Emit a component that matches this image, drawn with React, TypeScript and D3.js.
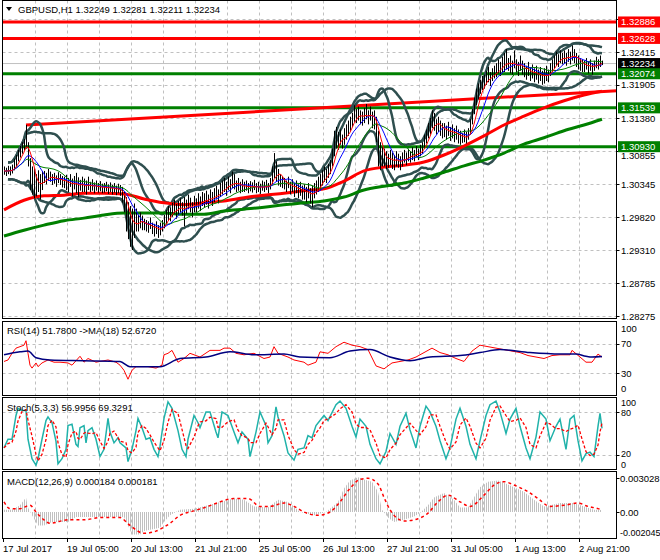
import { useEffect, useRef } from 'react';
import * as d3 from 'd3';

// GBPUSD H1, 300 hourly bars from 17 Jul 21:00 (prices in pips above 1.2800)
const BASE = 1.28;
const highPips = [
  262, 260, 263, 262, 265, 274, 280, 288, 294, 300,
  305, 327, 300, 275, 262, 258, 250, 256, 250, 255,
  255, 252, 258, 254, 250, 252, 248, 253, 250, 247,
  246, 249, 244, 250, 243, 247, 252, 245, 241, 246,
  243, 240, 246, 238, 242, 237, 240, 236, 239, 235,
  236, 238, 234, 237, 233, 236, 232, 235, 233, 230,
  222, 214, 206, 200, 196, 204, 196, 186, 190, 185,
  180, 178, 176, 182, 174, 172, 176, 170, 174, 178,
  186, 194, 200, 198, 205, 210, 203, 208, 212, 206,
  214, 210, 218, 213, 206, 216, 212, 220, 215, 222,
  220, 224, 218, 226, 222, 228, 232, 226, 236, 240,
  244, 238, 246, 242, 254, 250, 240, 244, 238, 242,
  238, 240, 236, 239, 237, 241, 236, 238, 235, 240,
  238, 241, 236, 244, 262, 283, 270, 258, 250, 246,
  244, 240, 246, 238, 242, 236, 240, 234, 238, 232,
  234, 230, 236, 228, 232, 236, 240, 246, 250, 256,
  262, 258, 266, 272, 290, 318, 324, 316, 320, 312,
  322, 328, 334, 340, 346, 358, 352, 356, 350, 348,
  354, 360, 350, 356, 348, 350, 340, 318, 300, 292,
  290, 286, 282, 288, 284, 280, 286, 282, 278, 284,
  288, 284, 290, 286, 292, 288, 294, 290, 296, 300,
  312, 320, 330, 338, 350, 346, 336, 340, 334, 330,
  330, 326, 332, 324, 328, 322, 326, 320, 318, 314,
  320, 316, 322, 336, 352, 370, 384, 392, 398, 404,
  406, 412, 418, 410, 416, 420, 424, 430, 426, 434,
  440, 446, 432, 436, 428, 444, 430, 426, 436, 428,
  424, 420, 426, 418, 422, 416, 420, 414, 418, 412,
  416, 420, 414, 424, 430, 436, 442, 438, 444, 440,
  444, 440, 446, 442, 452, 446, 440, 436, 432, 430,
  428, 432, 426, 430, 424, 428, 434, 430, 436, 428,
];
const lowPips = [
  249, 247, 250, 248, 251, 256, 262, 270, 276, 282,
  287, 290, 262, 225, 218, 212, 215, 222, 210, 225,
  236, 234, 240, 238, 233, 235, 230, 236, 233, 229,
  228, 225, 222, 230, 215, 226, 220, 214, 224, 222,
  222, 218, 225, 222, 224, 220, 224, 221, 223, 220,
  221, 223, 219, 222, 218, 221, 217, 220, 216, 205,
  190, 160, 148, 136, 131, 150, 160, 160, 165, 162,
  162, 160, 158, 164, 156, 152, 156, 150, 154, 160,
  165, 172, 178, 176, 183, 188, 180, 186, 190, 185,
  168, 188, 195, 190, 182, 190, 190, 196, 192, 200,
  198, 202, 196, 205, 200, 206, 210, 204, 214, 218,
  222, 216, 225, 220, 228, 226, 222, 224, 220, 222,
  222, 224, 220, 223, 221, 225, 220, 222, 219, 224,
  222, 225, 220, 226, 234, 244, 238, 232, 230, 228,
  226, 222, 228, 218, 222, 214, 220, 212, 216, 210,
  210, 206, 212, 204, 198, 212, 218, 222, 226, 232,
  238, 236, 244, 250, 262, 278, 290, 288, 296, 290,
  296, 304, 310, 318, 324, 332, 330, 334, 328, 326,
  330, 336, 328, 334, 322, 320, 300, 262, 256, 262,
  262, 258, 260, 264, 258, 256, 262, 260, 256, 262,
  268, 264, 270, 268, 272, 270, 276, 272, 278, 282,
  290, 298, 306, 312, 322, 318, 312, 316, 310, 306,
  308, 304, 310, 302, 306, 300, 304, 298, 296, 299,
  300, 298, 304, 312, 328, 344, 358, 368, 376, 382,
  384, 390, 394, 388, 396, 400, 402, 408, 404, 410,
  410, 414, 412, 408, 406, 416, 408, 404, 412, 406,
  402, 398, 404, 396, 400, 394, 398, 392, 396, 390,
  392, 396, 394, 404, 410, 416, 420, 418, 424, 422,
  424, 420, 426, 422, 428, 424, 418, 414, 412, 410,
  410, 414, 408, 412, 406, 412, 416, 414, 418, 421,
];

// slow moving averages, one reading every 10 bars
const slowRedMa = [194, 209, 216, 217, 220, 220, 219, 211, 205, 202, 205, 208, 213, 217, 220, 224, 227, 239, 255, 261, 264, 269, 280, 294, 310, 327, 341, 354, 365, 374, 380];
const slowGreenMa = [153, 162, 170, 177, 181, 186, 189, 189, 189, 187, 187, 192, 195, 198, 202, 205, 208, 214, 225, 231, 236, 244, 253, 263, 272, 283, 297, 307, 318, 327, 336];

const priceTicks = [1.32415, 1.31905, 1.3138, 1.30855, 1.30345, 1.2982, 1.2931, 1.28785, 1.28275];
const gridPrices = [1.3294, ...priceTicks];
const redLevels = [1.32886, 1.32628];
const greenLevels = [1.32074, 1.31539, 1.3093];
const lastPrice = 1.32234;
const trendPoints: [number, number][] = [[11, 1.3127], [307, 1.3181]];

const timeLabels = ['17 Jul 2017', '19 Jul 05:00', '20 Jul 13:00', '21 Jul 21:00', '25 Jul 05:00', '26 Jul 13:00', '27 Jul 21:00', '31 Jul 05:00', '1 Aug 13:00', '2 Aug 21:00'];
const timeLabelBars = [0, 32, 64, 96, 128, 160, 192, 224, 256, 288];

// [bar, value]
const rsiLine: [number, number][] = [
  [0, 46], [2, 48], [4, 57], [6, 64], [8, 66], [10, 68], [11, 74], [12, 57], [13, 41], [14, 37], [16, 44], [17, 39], [19, 44],
  [22, 48], [25, 45], [28, 45], [32, 44], [34, 41], [36, 47], [38, 53], [40, 45], [42, 50], [46, 45], [52, 48], [56, 45],
  [58, 41], [60, 34], [62, 22], [64, 34], [66, 39], [72, 39], [76, 37], [79, 41], [80, 55], [82, 57], [84, 61], [87, 45],
  [90, 50], [93, 57], [98, 52], [103, 61], [108, 61], [110, 64], [113, 64], [116, 57], [120, 55], [125, 57], [130, 50],
  [133, 52], [135, 66], [137, 57], [142, 52], [145, 48], [150, 45], [152, 41], [156, 45], [158, 59], [162, 57], [166, 66],
  [170, 72], [174, 68], [178, 66], [182, 62], [186, 40], [190, 36], [194, 44], [198, 46], [202, 48], [206, 52], [210, 58],
  [214, 64], [218, 58], [222, 55], [226, 50], [230, 46], [234, 60], [238, 68], [242, 66], [246, 64], [250, 62], [254, 60],
  [258, 58], [262, 54], [266, 52], [270, 50], [274, 54], [278, 55], [283, 55], [284, 61], [288, 52], [291, 45], [294, 45],
  [297, 56], [299, 51.78],
];
const rsiMaLine: [number, number][] = [
  [0, 55], [8, 59], [12, 60], [16, 51], [23, 48], [40, 47], [58, 46], [63, 39], [78, 39], [88, 50], [101, 52], [113, 59],
  [125, 55], [140, 56], [148, 52], [163, 51], [173, 60], [183, 62], [193, 52], [203, 47], [213, 52], [228, 54], [238, 58],
  [248, 62], [263, 58], [278, 56], [286, 56], [291, 53], [294, 52], [299, 52.67],
];
const stochLine: [number, number][] = [
  [0, 30], [2, 42], [4, 42], [6, 75], [7, 85], [9, 82], [11, 82], [12, 42], [14, 15], [16, 6], [17, 15], [19, 42], [21, 68],
  [22, 73], [24, 65], [26, 39], [27, 8], [29, 15], [31, 28], [32, 61], [34, 63], [36, 35], [37, 32], [38, 58], [40, 61],
  [41, 37], [42, 54], [44, 58], [46, 42], [48, 18], [50, 28], [52, 71], [53, 52], [55, 37], [57, 44], [58, 37], [61, 30],
  [62, 11], [64, 28], [66, 54], [67, 71], [69, 58], [71, 42], [73, 44], [75, 28], [77, 18], [78, 32], [80, 71], [82, 94],
  [84, 85], [87, 54], [89, 28], [91, 18], [92, 42], [95, 75], [97, 65], [98, 58], [101, 80], [103, 80], [106, 52], [107, 44],
  [109, 80], [112, 75], [115, 52], [117, 37], [119, 52], [122, 42], [123, 18], [126, 52], [128, 80], [131, 61], [132, 37],
  [134, 47], [136, 87], [137, 73], [140, 47], [142, 23], [145, 13], [147, 28], [150, 30], [152, 47], [154, 44], [156, 61],
  [158, 68], [160, 75], [162, 68], [166, 90], [168, 95], [171, 85], [174, 60], [176, 45], [178, 70], [181, 60], [183, 35],
  [186, 15], [188, 8], [191, 25], [193, 50], [196, 35], [198, 60], [201, 78], [203, 55], [206, 30], [208, 60], [211, 88],
  [213, 80], [216, 60], [218, 40], [221, 15], [223, 30], [226, 70], [228, 85], [231, 60], [233, 35], [236, 15], [238, 40],
  [241, 75], [243, 90], [246, 95], [248, 80], [251, 50], [253, 70], [256, 85], [258, 60], [261, 30], [263, 15], [266, 45],
  [268, 80], [271, 70], [273, 40], [276, 60], [278, 70], [281, 28], [283, 70], [285, 75], [287, 40], [289, 12], [291, 22],
  [293, 24], [295, 18], [297, 60], [298, 78], [299, 57],
];
const macdLine: [number, number][] = [
  [0, 0.0002], [4, 0.0002], [8, 0.0006], [11, 0.0013], [12, 0.0004], [14, -0.0003], [17, -0.0012], [20, -0.0012],
  [24, -0.0009], [32, -0.0009], [36, -0.00045], [60, -0.00045], [62, -0.0012], [64, -0.002], [68, -0.002], [70, -0.0017],
  [78, -0.0014], [80, -0.0009], [83, -0.0003], [88, 0.0002], [95, 0.0003], [102, 0.0006], [108, 0.0009], [115, 0.0012],
  [120, 0.0011], [125, 0.0005], [132, 0.0004], [137, 0.0011], [142, 0.0009], [145, 0.0005], [148, 0], [155, -0.0003],
  [161, 0], [163, 0.0003], [167, 0.0009], [170, 0.0021], [173, 0.0028], [177, 0.0031], [180, 0.0029], [184, 0.0027],
  [187, 0.0018], [189, 0.0002], [192, -0.0005], [195, -0.0009], [200, -0.0007], [205, -0.0004], [208, -0.0001],
  [212, 0.0006], [215, 0.0013], [220, 0.0017], [225, 0.0011], [228, 0.0004], [232, 0.0004], [235, 0.0013], [238, 0.0022],
  [242, 0.0027], [247, 0.0028], [250, 0.0026], [255, 0.0022], [260, 0.0018], [265, 0.0011], [270, 0.0005], [273, 0.0006],
  [278, 0.0008], [285, 0.0008], [290, 0.0005], [295, 0.0002], [299, 0.000184],
];
const macdSignal: [number, number][] = [
  [0, 0.0009], [3, 0.0003], [8, 0.0003], [13, 0.0006], [16, 0], [20, -0.0007], [23, -0.001], [32, -0.0007], [40, -0.0007],
  [48, -0.0005], [58, -0.0005], [63, -0.0012], [70, -0.0019], [76, -0.0017], [83, -0.001], [88, -0.0003], [95, 0.0001],
  [102, 0.0005], [108, 0.0009], [115, 0.0012], [122, 0.0012], [128, 0.0005], [133, 0.0005], [140, 0.0008], [145, 0.0005],
  [150, 0], [157, -0.0003], [163, 0], [168, 0.0009], [173, 0.0021], [178, 0.0029], [182, 0.003], [187, 0.0025],
  [190, 0.0013], [193, 0.0002], [200, -0.0008], [207, -0.0006], [212, -0.0001], [217, 0.0009], [222, 0.0015],
  [228, 0.0009], [233, 0.0005], [240, 0.0015], [245, 0.0024], [250, 0.0027], [255, 0.0024], [262, 0.0018], [267, 0.0012],
  [273, 0.0005], [280, 0.0006], [287, 0.0008], [292, 0.0005], [297, 0.0003], [299, 0.000181],
];

const FONT = "'Liberation Sans', Arial, sans-serif";

function sma(arr: number[], n: number) {
  return arr.map((_, i) => d3.mean(arr.slice(Math.max(0, i - n + 1), i + 1)) as number);
}

// bands around the median, spread measured over the highs and lows of the window
function bands(mid: number[], hi: number[], lo: number[], n: number, k: number) {
  return mid.map((_, i) => {
    const a = Math.max(0, i - n + 1);
    const m = d3.mean(mid.slice(a, i + 1)) as number;
    const pts = [...hi.slice(a, i + 1), ...lo.slice(a, i + 1)];
    const s = Math.sqrt(d3.mean(pts, v => (v - m) ** 2) as number);
    return { up: m + k * s, lo: m - k * s };
  });
}

export default function App() {
  const ref = useRef<SVGSVGElement>(null);

  useEffect(() => {
    const svg = d3.select(ref.current);
    svg.selectAll('*').remove();

    const left = 2.5;
    const right = 616.5;
    const x = d3.scaleLinear().domain([0, 299]).range([4, 602]);
    const gridX = d3.range(1, 19).map(k => x(16 * k) - 1);

    const panels = {
      main: [0.5, 318.5],
      rsi: [321.5, 395.5],
      stoch: [397.5, 469.5],
      macd: [471.5, 538.5],
    };

    const yMain = d3.scaleLinear().domain([1.28275, 1.32415]).range([316, 52]);
    const yRsi = d3.scaleLinear().domain([0, 100]).range([395.5, 321.5]);
    const yStoch = d3.scaleLinear().domain([0, 100]).range([469.5, 397.5]);
    const yMacd = d3.scaleLinear().domain([0, 0.003028]).range([512, 478]);

    const defs = svg.append('defs');
    Object.entries(panels).forEach(([name, [t, b]]) => {
      defs.append('clipPath').attr('id', `clip-${name}`)
        .append('rect').attr('x', left).attr('y', t).attr('width', right - left).attr('height', b - t);
    });
    const hatch = defs.append('pattern').attr('id', 'hist-hatch')
      .attr('patternUnits', 'userSpaceOnUse').attr('width', 2).attr('height', 4);
    hatch.append('rect').attr('x', 0).attr('y', 0).attr('width', 1).attr('height', 4).attr('fill', '#c0c0c0');

    svg.append('rect').attr('width', 660).attr('height', 560).attr('fill', '#fff');

    // grids
    Object.values(panels).forEach(([t, b]) => {
      svg.append('g').selectAll('line').data(gridX).enter().append('line')
        .attr('x1', d => d + 0.5).attr('x2', d => d + 0.5).attr('y1', t).attr('y2', b)
        .attr('stroke', '#c0c0c0').attr('stroke-dasharray', '3,3');
    });
    const hGrid = (ys: number[]) => {
      svg.append('g').selectAll('line').data(ys).enter().append('line')
        .attr('x1', left).attr('x2', right).attr('y1', d => Math.round(d) + 0.5).attr('y2', d => Math.round(d) + 0.5)
        .attr('stroke', '#c0c0c0').attr('stroke-dasharray', '3,3');
    };
    hGrid(gridPrices.map(p => yMain(p)));
    hGrid([yRsi(70), yRsi(30)]);
    hGrid([yStoch(80), yStoch(20)]);

    // ---------- main panel ----------
    const main = svg.append('g').attr('clip-path', 'url(#clip-main)');
    const price = (p: number) => BASE + p / 10000;
    const hiP = highPips.map(price);
    const loP = lowPips.map(price);
    const median = hiP.map((h, i) => (h + loP[i]) / 2);

    main.append('line')
      .attr('x1', left).attr('x2', right).attr('y1', yMain(lastPrice)).attr('y2', yMain(lastPrice))
      .attr('stroke', '#c0c0c0').attr('stroke-width', 1);

    const levels = [
      ...redLevels.map(v => ({ v, c: '#ff0000' })),
      ...greenLevels.map(v => ({ v, c: '#008000' })),
    ];
    main.selectAll('.level').data(levels).enter().append('line')
      .attr('x1', left).attr('x2', right).attr('y1', d => yMain(d.v)).attr('y2', d => yMain(d.v))
      .attr('stroke', d => d.c).attr('stroke-width', 3);

    main.append('line')
      .attr('x1', x(trendPoints[0][0])).attr('y1', yMain(trendPoints[0][1]))
      .attr('x2', x(trendPoints[1][0])).attr('y2', yMain(trendPoints[1][1]))
      .attr('stroke', '#ff0000').attr('stroke-width', 3);

    const drawBands = (n: number, k: number, from: number) => {
      const bb = bands(median, hiP, loP, n, k);
      ['up', 'lo'].forEach(key => {
        const vals = bb.map(b => (b as any)[key]);
        const line = d3.line<number>().x((_, i) => x(i)).y(d => yMain(d))
          .defined((_, i) => i >= from).curve(d3.curveMonotoneX);
        main.append('path').attr('d', line(vals))
          .attr('fill', 'none').attr('stroke', '#2f4f4f').attr('stroke-width', 2.5);
      });
    };
    drawBands(20, 2, 2);
    drawBands(10, 2, 2);

    const slowLine = d3.line<number>()
      .x((_, i) => x(Math.min(i * 10, 299)))
      .y(d => yMain(price(d)))
      .curve(d3.curveMonotoneX);
    main.append('path').attr('d', slowLine(slowRedMa)).attr('fill', 'none').attr('stroke', '#ff0000').attr('stroke-width', 3);
    main.append('path').attr('d', slowLine(slowGreenMa)).attr('fill', 'none').attr('stroke', '#008000').attr('stroke-width', 3);

    main.selectAll('.bar').data(hiP).enter().append('line')
      .attr('x1', (_, i) => x(i) + 0.5).attr('x2', (_, i) => x(i) + 0.5)
      .attr('y1', d => yMain(d)).attr('y2', (_, i) => yMain(loP[i]))
      .attr('stroke', '#000').attr('stroke-width', 1);

    const fastLine = d3.line<number>().x((_, i) => x(i)).y(d => yMain(d));
    [[21, '#008000'], [10, '#0000ff'], [5, '#ff0000']].forEach(([n, c]) => {
      main.append('path').attr('d', fastLine(sma(median, n as number)))
        .attr('fill', 'none').attr('stroke', c as string).attr('stroke-width', 1);
    });

    // ---------- RSI ----------
    const rsiG = svg.append('g').attr('clip-path', 'url(#clip-rsi)');
    const ptLine = (ys: d3.ScaleLinear<number, number>) =>
      d3.line<[number, number]>().x(d => x(d[0])).y(d => ys(d[1]));
    rsiG.append('path').attr('d', ptLine(yRsi)(rsiLine)).attr('fill', 'none').attr('stroke', '#ff0000').attr('stroke-width', 1);
    rsiG.append('path').attr('d', ptLine(yRsi).curve(d3.curveMonotoneX)(rsiMaLine)).attr('fill', 'none').attr('stroke', '#000080').attr('stroke-width', 1.5);

    // ---------- Stochastic ----------
    const stG = svg.append('g').attr('clip-path', 'url(#clip-stoch)');
    const stochSignal: [number, number][] = stochLine.map((d, i) => {
      const w = stochLine.slice(Math.max(0, i - 2), i + 1);
      return [d[0], d3.mean(w, v => v[1]) as number];
    });
    stG.append('path').attr('d', ptLine(yStoch)(stochLine)).attr('fill', 'none').attr('stroke', '#20b2aa').attr('stroke-width', 1.5);
    stG.append('path').attr('d', ptLine(yStoch)(stochSignal)).attr('fill', 'none').attr('stroke', '#ff0000')
      .attr('stroke-width', 1.3).attr('stroke-dasharray', '3,2');

    // ---------- MACD ----------
    const mG = svg.append('g').attr('clip-path', 'url(#clip-macd)');
    const histArea = d3.area<[number, number]>()
      .x(d => x(d[0])).y0(yMacd(0)).y1(d => yMacd(d[1]));
    mG.append('path').attr('d', histArea(macdLine)).attr('fill', 'url(#hist-hatch)');
    mG.append('path').attr('d', ptLine(yMacd).curve(d3.curveMonotoneX)(macdSignal)).attr('fill', 'none')
      .attr('stroke', '#ff0000').attr('stroke-width', 1.5).attr('stroke-dasharray', '3,3');

    // ---------- frames ----------
    Object.values(panels).forEach(([t, b]) => {
      svg.append('rect').attr('x', left).attr('y', t).attr('width', right - left).attr('height', b - t)
        .attr('fill', 'none').attr('stroke', '#000').attr('stroke-width', 1);
    });

    const text = (tx: number, ty: number, s: string, opts: any = {}) =>
      svg.append('text').attr('x', tx).attr('y', ty).text(s)
        .attr('font-family', FONT).attr('font-size', opts.size || 9.5)
        .attr('fill', opts.fill || '#000').attr('dominant-baseline', 'central');

    // header
    svg.append('path').attr('d', 'M6,7 L12,7 L9,11 Z').attr('fill', '#000');
    text(18, 9.5, 'GBPUSD,H1  1.32249 1.32281 1.32211 1.32234');
    text(7, 330, 'RSI(14) 51.7800  ->MA(18) 52.6720');
    text(7, 407, 'Stoch(5,3,3) 56.9956 69.3291');
    text(7, 481, 'MACD(12,26,9) 0.000184 0.000181');

    // right price axis
    gridPrices.forEach(p => {
      svg.append('line').attr('x1', right).attr('x2', right + 3).attr('y1', Math.round(yMain(p)) + 0.5).attr('y2', Math.round(yMain(p)) + 0.5).attr('stroke', '#000');
    });
    priceTicks.forEach(p => {
      text(621, yMain(p) + (p === 1.30855 ? 4 : 0), p.toFixed(5));
    });
    const boxes = [
      ...redLevels.map(v => ({ v, c: '#ff0000' })),
      { v: lastPrice, c: '#000000' },
      ...greenLevels.map(v => ({ v, c: '#008000' })),
    ];
    boxes.forEach(b => {
      svg.append('rect').attr('x', 618).attr('y', yMain(b.v) - 5.5).attr('width', 42).attr('height', 11).attr('fill', b.c);
      text(621, yMain(b.v), b.v.toFixed(5), { fill: '#fff' });
    });

    // indicator axes
    [[100, 7], [70, 0], [30, 0], [0, -7]].forEach(([v, o]) => text(621, yRsi(v) + o, String(v)));
    [[100, 5], [80, 1], [20, -1], [0, -5]].forEach(([v, o]) => text(621, yStoch(v) + o, String(v), { size: 9 }));
    [[0.003028, '0.003028'], [0, '0.00'], [-0.002045, '-0.002045']].forEach(([v, s]) =>
      text(620, yMacd(v as number) - ((v as number) < 0 ? 2 : 0), s as string, { size: (v as number) < 0 ? 9 : 9.5 }));
    [yRsi(70), yRsi(30), yStoch(80), yStoch(20), yMacd(0.003028), yMacd(0)].forEach(yy =>
      svg.append('line').attr('x1', right).attr('x2', right + 3).attr('y1', Math.round(yy) + 0.5).attr('y2', Math.round(yy) + 0.5).attr('stroke', '#000'));

    // time axis
    timeLabelBars.forEach((b, i) => {
      const gx = i === 0 ? 3 : x(b) - 1;
      svg.append('line').attr('x1', gx + 0.5).attr('x2', gx + 0.5).attr('y1', 538.5).attr('y2', 542).attr('stroke', '#000');
      text(gx, 548, timeLabels[i]);
    });
  }, []);

  return (
    <svg ref={ref} width={660} height={560}
      style={{ position: 'fixed', left: 0, top: 0, display: 'block' }} />
  );
}
